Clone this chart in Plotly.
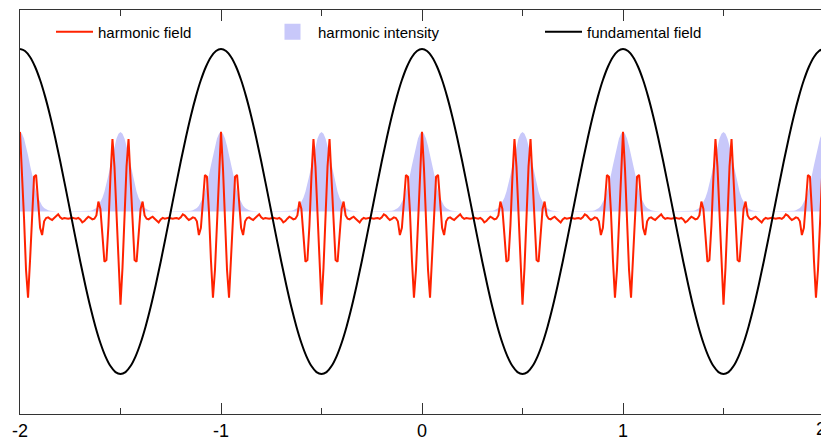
import numpy as np
import plotly.graph_objects as go

# ---------------- data ----------------
x_start = -2.0
x_end = 2.0
harmonic_step = 0.01      # sample spacing of harmonic field / intensity
fundamental_step = 0.025  # sample spacing of fundamental field

# one period (length 1) of the fundamental field, starting at a crest
fundamental_period = [1.0, 0.988, 0.951, 0.891, 0.809, 0.707, 0.588, 0.454, 0.309, 0.156,
                      0.0, -0.156, -0.309, -0.454, -0.588, -0.707, -0.809, -0.891, -0.951, -0.988,
                      -1.0, -0.988, -0.951, -0.891, -0.809, -0.707, -0.588, -0.454, -0.309, -0.156,
                      0.0, 0.156, 0.309, 0.454, 0.588, 0.707, 0.809, 0.891, 0.951, 0.988]

# harmonic field around bursts at integer x (fundamental crests), offsets 0.00 ... 0.25
harmonic_burst_crest = [0.49, 0.26, -0.04, -0.36, -0.53, -0.30, 0.00, 0.214, 0.225, 0.06,
                        -0.10, -0.145, -0.06, -0.04, -0.036, -0.045, -0.052, -0.04, -0.025, -0.017,
                        -0.035, -0.045, -0.04, -0.042, -0.045, -0.042]

# harmonic field around bursts at half-integer x (fundamental troughs), offsets 0.00 ... 0.25
harmonic_burst_trough = [-0.574, -0.344, -0.044, 0.276, 0.446, 0.216, -0.084, -0.298, -0.309, -0.144,
                         0.016, 0.061, -0.024, -0.044, -0.048, -0.039, -0.032, -0.044, -0.059, -0.067,
                         -0.049, -0.039, -0.044, -0.042, -0.039, -0.042]

# harmonic intensity from a burst centre outward (offsets 0.00 ... 0.25)
intensity_half_burst = [0.49, 0.479, 0.449, 0.403, 0.346, 0.285, 0.224, 0.169, 0.122, 0.085,
                        0.056, 0.035, 0.022, 0.013, 0.007, 0.004, 0.002, 0.001, 0.0, 0.0,
                        0.0, 0.0, 0.0, 0.0, 0.0, 0.0]

x_tick_values = [-2, -1, 0, 1]
x_tick_labels = ["-2", "-1", "0", "1"]
x_minor_ticks = [-1.5, -0.5, 0.5, 1.5]
last_tick_value = 2
last_tick_label = "2"

series_names = ["harmonic field", "harmonic intensity", "fundamental field"]

# ---------------- build sampled series ----------------
c, t = harmonic_burst_crest, harmonic_burst_trough
harm_period = c[0:26] + t[24:0:-1] + t[0:25] + c[25:0:-1]          # one full period (100 samples)
int_period = intensity_half_burst + intensity_half_burst[-2:0:-1]  # half period (50 samples)

n_h = int(round((x_end - x_start) / harmonic_step)) + 1
x_h = x_start + harmonic_step * np.arange(n_h)
y_harm = [harm_period[i % len(harm_period)] for i in range(n_h)]
y_int = [int_period[i % len(int_period)] for i in range(n_h)]

n_f = int(round((x_end - x_start) / fundamental_step)) + 1
x_f = x_start + fundamental_step * np.arange(n_f)
y_fund = [fundamental_period[i % len(fundamental_period)] for i in range(n_f)]

FONT = "Liberation Sans, Arial, sans-serif"
AX = "#333333"
BLUE = "rgb(200,200,250)"

fig = go.Figure()
fig.add_trace(go.Scatter(x=x_h, y=y_int, mode="lines", fill="tozeroy",
                         fillcolor=BLUE, line=dict(width=0, color=BLUE),
                         name=series_names[1], showlegend=False))
# legend entry (square patch) for the intensity fill
fig.add_trace(go.Scatter(x=[None], y=[None], mode="markers",
                         marker=dict(symbol="square", size=16, color=BLUE),
                         name=series_names[1], legend="legend2"))
fig.add_trace(go.Scatter(x=x_h, y=y_harm, mode="lines",
                         line=dict(color="#ff2200", width=2),
                         name=series_names[0], legend="legend"))
fig.add_trace(go.Scatter(x=x_f, y=y_fund, mode="lines", line_shape="spline",
                         line=dict(color="black", width=2),
                         name=series_names[2], legend="legend3"))

px_per_unit = 201.0
plot_w = 821 - 20
x_range_end = x_start + plot_w / px_per_unit

leg_common = dict(orientation="h", yanchor="middle", xanchor="left",
                  bgcolor="rgba(0,0,0,0)", font=dict(family=FONT, size=15, color="black"))
ly = (414 - 32) / 404

fig.update_layout(
    width=821, height=443, autosize=False,
    margin=dict(l=20, r=0, t=10, b=29),
    paper_bgcolor="white", plot_bgcolor="white",
    showlegend=True,
    legend=dict(x=(51 - 20) / plot_w, y=ly, itemwidth=37, **leg_common),
    legend2=dict(x=(267 - 20) / plot_w, y=ly, itemwidth=41, **leg_common),
    legend3=dict(x=(540 - 20) / plot_w, y=ly, itemwidth=37, **leg_common),
    xaxis=dict(range=[x_start, x_range_end], tickvals=x_tick_values, ticktext=x_tick_labels,
               ticks="inside", ticklen=11, tickwidth=1, tickcolor=AX,
               showline=True, linecolor=AX, linewidth=1, mirror="allticks",
               showgrid=False, zeroline=False,
               tickfont=dict(family=FONT, size=18, color="black"),
               minor=dict(tickvals=x_minor_ticks, ticks="inside", ticklen=6,
                          tickcolor=AX, tickwidth=1, showgrid=False)),
    yaxis=dict(range=[-1.246, 1.240], showticklabels=False, ticks="",
               showline=True, linecolor=AX, linewidth=1, mirror=True,
               showgrid=False, zeroline=False),
    annotations=[dict(x=(last_tick_value - x_start) / (x_range_end - x_start), y=0,
                      xref="paper", yref="paper", yanchor="top",
                      xanchor="center", showarrow=False, yshift=-3, xshift=-3,
                      text=last_tick_label,
                      font=dict(family=FONT, size=18, color="black"))],
)

fig.write_html("out.html")
